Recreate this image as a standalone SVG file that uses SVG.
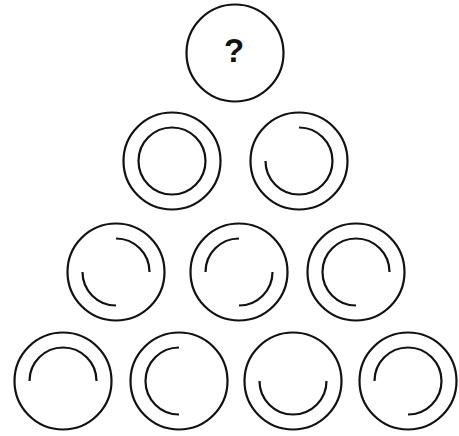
<svg xmlns="http://www.w3.org/2000/svg" width="459" height="436" viewBox="0 0 459 436">
<style>
.o{fill:none;stroke:#111;stroke-width:2.2}
.a{fill:none;stroke:#111;stroke-width:2.2;stroke-linecap:butt}
.q{font-family:"Liberation Sans",Arial,sans-serif;font-weight:bold;font-size:33px;fill:#111;text-anchor:middle}
</style>
<rect width="459" height="436" fill="#fff"/>
<g id="n-top">
<circle class="o" cx="235" cy="53" r="48.5"/>
<text class="q" x="234" y="62">?</text>
</g>
<g id="n-r2c1">
<circle class="o" cx="172" cy="161" r="48.5"/>
<circle class="o" cx="172" cy="161" r="33.5"/>
</g>
<g id="n-r2c2">
<circle class="o" cx="299" cy="161" r="48.5"/>
<path class="a" d="M299,127.5 A33.5,33.5 0 1 1 265.5,161"/>
</g>
<g id="n-r3c1">
<circle class="o" cx="116" cy="272" r="48.5"/>
<path class="a" d="M116,238.5 A33.5,33.5 0 0 1 149.5,272"/>
<path class="a" d="M116,305.5 A33.5,33.5 0 0 1 82.5,272"/>
</g>
<g id="n-r3c2">
<circle class="o" cx="239" cy="272" r="48.5"/>
<path class="a" d="M205.5,272 A33.5,33.5 0 0 1 239,238.5"/>
<path class="a" d="M272.5,272 A33.5,33.5 0 0 1 239,305.5"/>
</g>
<g id="n-r3c3">
<circle class="o" cx="356" cy="272" r="48.5"/>
<path class="a" d="M356,305.5 A33.5,33.5 0 1 1 389.5,272"/>
</g>
<g id="n-r4c1">
<circle class="o" cx="63" cy="381" r="48.5"/>
<path class="a" d="M29.5,381 A33.5,33.5 0 0 1 96.5,381"/>
</g>
<g id="n-r4c2">
<circle class="o" cx="179" cy="381" r="48.5"/>
<path class="a" d="M179,414.5 A33.5,33.5 0 0 1 179,347.5"/>
</g>
<g id="n-r4c3">
<circle class="o" cx="293" cy="381" r="48.5"/>
<path class="a" d="M326.5,381 A33.5,33.5 0 0 1 259.5,381"/>
</g>
<g id="n-r4c4">
<circle class="o" cx="408" cy="381" r="48.5"/>
<path class="a" d="M374.5,381 A33.5,33.5 0 1 1 408,414.5"/>
</g>
</svg>
